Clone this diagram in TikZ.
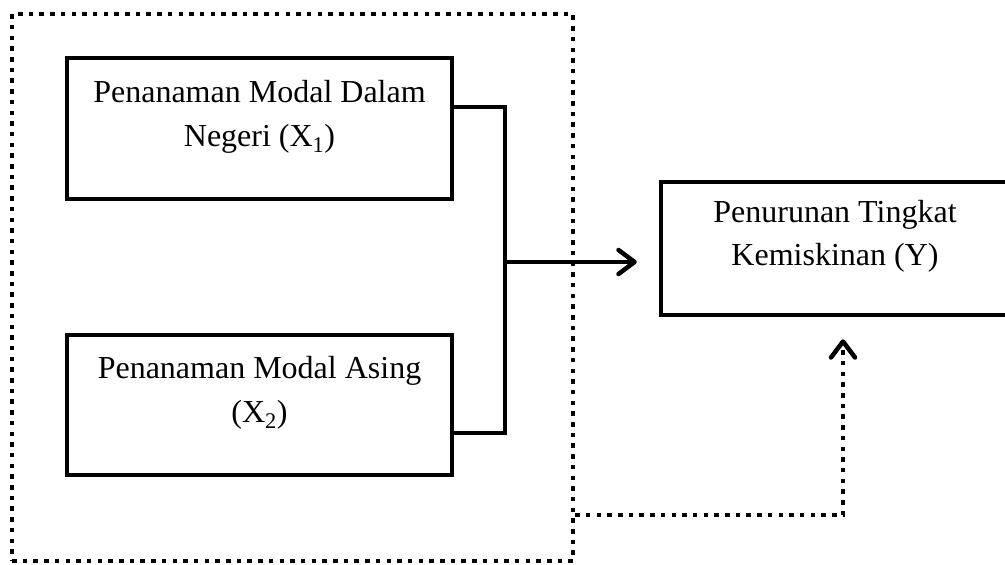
\documentclass[tikz,border=0pt]{standalone}
\usepackage{fontspec}
\setmainfont{Liberation Serif}
\usetikzlibrary{arrows.meta}
\begin{document}
\begin{tikzpicture}[x=1pt,y=-1pt,
  box/.style={draw, line width=4.5pt, inner sep=0pt},
  txt/.style={anchor=base, inner sep=0pt, font=\fontsize{32}{44}\selectfont},
  conn/.style={line width=4.5pt},
  dotline/.style={line width=4.5pt, dash pattern=on 4.5pt off 6.2pt},
  tip/.style={-{Straight Barb[length=16pt,width=24pt,line cap=round,line join=round]}}
]
\useasboundingbox (0,0) rectangle (1005,565);
% outer dotted frame
\node[dotline, draw, inner sep=0pt, minimum width=561pt, minimum height=547pt] (outer) at (292.5,287.5) {};
% boxes
\node[box, minimum width=385pt, minimum height=141pt] (b1) at (259.5,128.5) {};
\node[box, minimum width=385pt, minimum height=140pt] (b2) at (259.5,405) {};
\node[box, minimum width=348pt, minimum height=133pt] (Y) at (835,248.5) {};
% texts
\node[txt] (t1a) at (259.5,102) {Penanaman Modal Dalam};
\node[txt] (t1b) at (259.5,146) {Negeri (X\textsubscript{1})};
\node[txt] (t2a) at (259.5,378) {Penanaman Modal Asing};
\node[txt] (t2b) at (259.5,422) {(X\textsubscript{2})};
\node[txt] (tya) at (835,222) {Penurunan Tingkat};
\node[txt] (tyb) at (835,265) {Kemiskinan (Y)};
% bracket
\coordinate (k1) at (505,107);
\coordinate (k2) at (505,433);
\coordinate (j) at (505,262);
\draw[conn] (b1.east |- k1) -- (k1) -- (k2) -- (b2.east |- k2);
\draw[conn, tip, shorten >=22pt] (j) -- (Y.west |- j);
% dotted feedback arrow
\coordinate (d1) at (843,515);
\draw[dotline, tip, shorten >=22pt] (outer.east |- d1) -- (d1) -- (Y.south -| d1);
\end{tikzpicture}
\end{document}
